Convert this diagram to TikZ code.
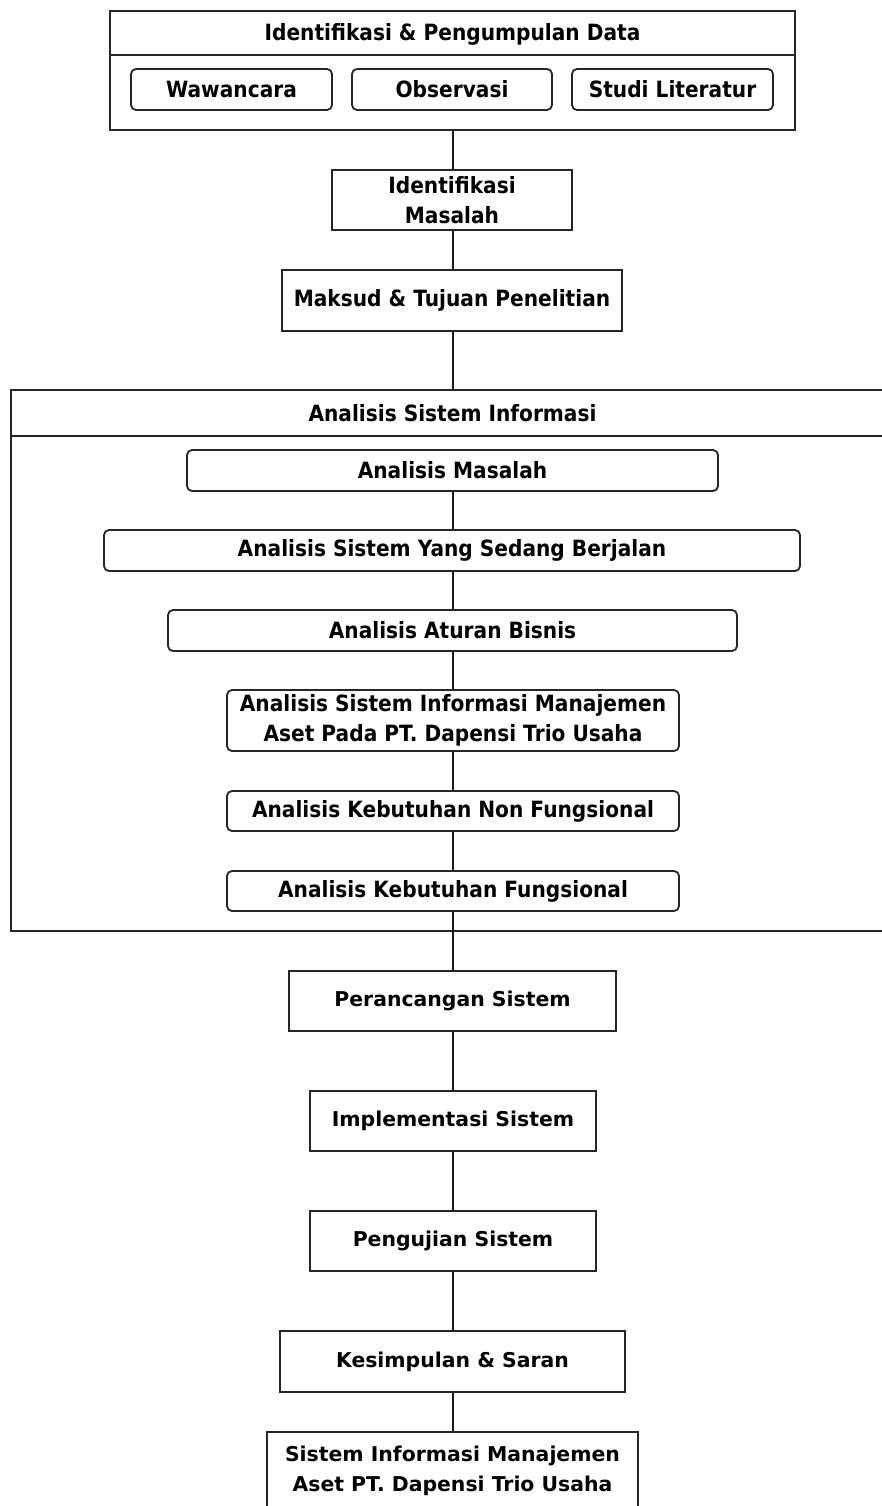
\documentclass[tikz,border=0pt]{standalone}
\usepackage{fontspec}
\setmainfont{DejaVu Sans}
\newfontfamily\topfont[FakeStretch=0.9]{DejaVu Sans}
\newfontfamily\botfont{DejaVu Sans}
\begin{document}
\begin{tikzpicture}[x=1pt,y=-1pt,
  box/.style={draw=black!85, line width=1.8pt, inner sep=0pt, align=center,
    font=\topfont\bfseries\fontsize{22.4}{30}\selectfont},
  rbox/.style={box, rounded corners=5pt},
  bbox/.style={box, font=\botfont\bfseries\fontsize{20.4}{30}\selectfont},
  lbl/.style={inner sep=0pt, align=center, font=\topfont\bfseries\fontsize{22.4}{30}\selectfont},
  blbl/.style={inner sep=0pt, align=center, font=\botfont\bfseries\fontsize{20.4}{30}\selectfont},
  conn/.style={draw=black!90, line width=1.8pt}]
\useasboundingbox (0,0) rectangle (882,1506);
\fill[white] (0,0) rectangle (882,1506);
\clip (0,0) rectangle (882,1506);
\coordinate (axis) at (453,0);

% top group
\node[box, minimum width=685pt, minimum height=119pt] (top) at (452.5,70.5) {};
\node[lbl] (toptitle) at (452.5,34) {Identifikasi \& Pengumpulan Data};
\draw[draw=black!85, line width=1.8pt] (top.west |- 0,55) -- (top.east |- 0,55);
\node[rbox, minimum width=201pt, minimum height=41pt] (waw) at (231.5,89.5) {Wawancara};
\node[rbox, minimum width=200pt, minimum height=41pt] (obs) at (452,89.5) {Observasi};
\node[rbox, minimum width=201pt, minimum height=41pt] (stu) at (672.5,89.5) {Studi Literatur};

\node[box, minimum width=240pt, minimum height=60pt] (idm) at (452,200) {Identifikasi\\Masalah};
\node[box, minimum width=340pt, minimum height=61pt] (mak) at (452,300.5) {Maksud \& Tujuan Penelitian};

% analysis group
\node[box, minimum width=889pt, minimum height=541pt] (big) at (455.5,660.5) {};
\node[lbl] (bigtitle) at (452.5,413) {Analisis Sistem Informasi};
\draw[draw=black!85, line width=1.8pt] (big.west |- 0,436) -- (big.east |- 0,436);

\node[rbox, minimum width=531pt, minimum height=41pt] (am) at (452.5,470.5) {Analisis Masalah};
\node[rbox, minimum width=696pt, minimum height=41pt] (asb) at (452,550.5) {Analisis Sistem Yang Sedang Berjalan};
\node[rbox, minimum width=569pt, minimum height=41pt] (aab) at (452.5,630.5) {Analisis Aturan Bisnis};
\node[rbox, minimum width=452pt, minimum height=61pt] (asim) at (453,720.5) {Analisis Sistem Informasi Manajemen\\Aset Pada PT. Dapensi Trio Usaha};
\node[rbox, minimum width=452pt, minimum height=40pt] (aknf) at (453,811) {Analisis Kebutuhan Non Fungsional};
\node[rbox, minimum width=452pt, minimum height=40pt] (akf) at (453,891) {Analisis Kebutuhan Fungsional};

% lower chain
\node[bbox, minimum width=327pt, minimum height=60pt] (per) at (452.5,1001) {Perancangan Sistem};
\node[bbox, minimum width=286pt, minimum height=60pt] (imp) at (453,1121) {Implementasi Sistem};
\node[bbox, minimum width=286pt, minimum height=60pt] (uji) at (453,1241) {Pengujian Sistem};
\node[bbox, minimum width=345pt, minimum height=61pt] (kes) at (452.5,1361.5) {Kesimpulan \& Saran};
\node[bbox, minimum width=371pt, minimum height=98pt] (fin) at (452.5,1481) {};
\node[blbl] (fintext) at (452.5,1471) {Sistem Informasi Manajemen\\Aset PT. Dapensi Trio Usaha};

% connectors
\draw[conn] (top.south -| axis) -- (idm.north -| axis);
\draw[conn] (idm.south -| axis) -- (mak.north -| axis);
\draw[conn] (mak.south -| axis) -- (big.north -| axis);
\draw[conn] (am.south -| axis) -- (asb.north -| axis);
\draw[conn] (asb.south -| axis) -- (aab.north -| axis);
\draw[conn] (aab.south -| axis) -- (asim.north -| axis);
\draw[conn] (asim.south -| axis) -- (aknf.north -| axis);
\draw[conn] (aknf.south -| axis) -- (akf.north -| axis);
\draw[conn] (akf.south -| axis) -- (per.north -| axis);
\draw[conn] (per.south -| axis) -- (imp.north -| axis);
\draw[conn] (imp.south -| axis) -- (uji.north -| axis);
\draw[conn] (uji.south -| axis) -- (kes.north -| axis);
\draw[conn] (kes.south -| axis) -- (fin.north -| axis);
\end{tikzpicture}
\end{document}
